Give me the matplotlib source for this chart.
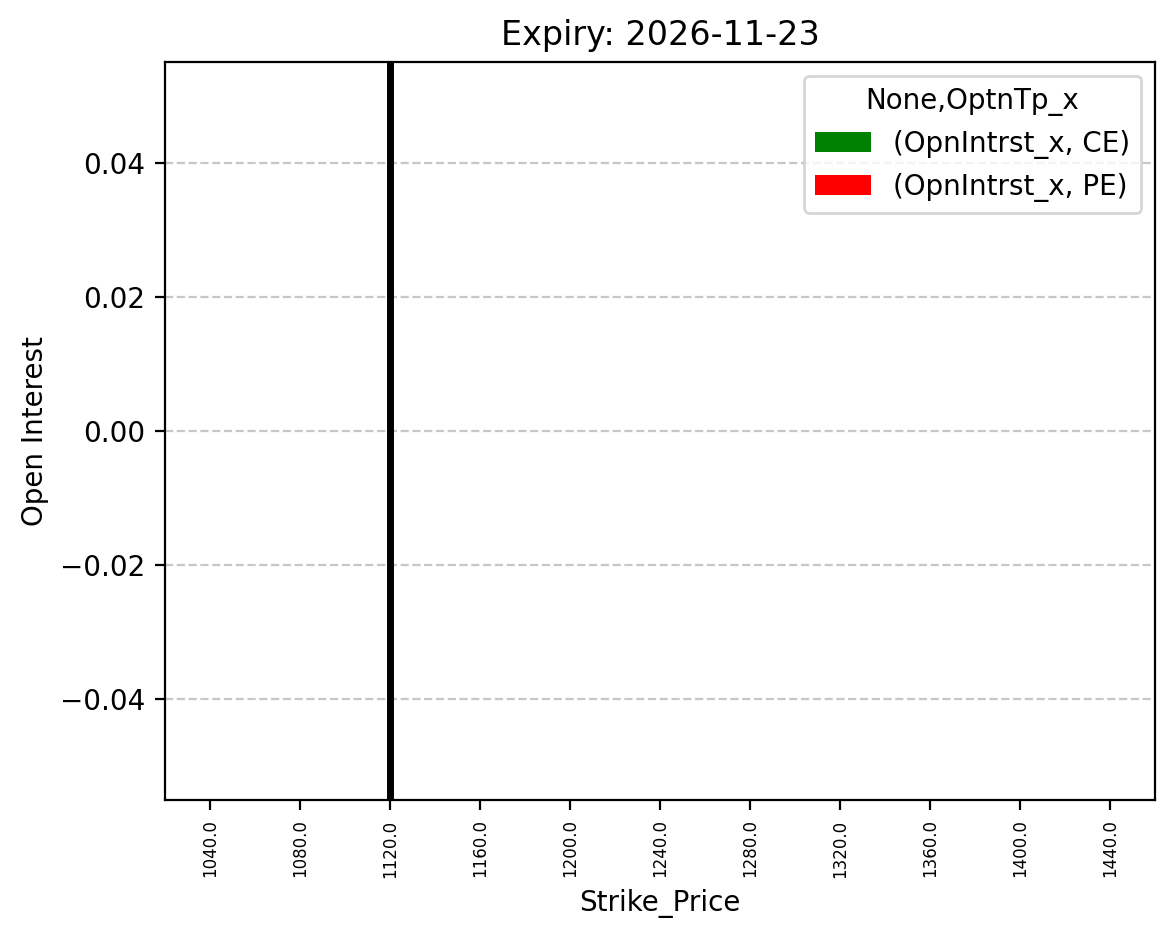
import numpy as np
import matplotlib
matplotlib.use("Agg")
import matplotlib.pyplot as plt

# option chain snapshot (no open interest recorded for this expiry)
expiry = "2026-11-23"
strikes = [1040.0, 1080.0, 1120.0, 1160.0, 1200.0, 1240.0,
           1280.0, 1320.0, 1360.0, 1400.0, 1440.0]
ce_oi = [0, 0, 0, 0, 0, 0, 0, 0, 0, 0, 0]
pe_oi = [0, 0, 0, 0, 0, 0, 0, 0, 0, 0, 0]
spot_strike = 1120.0

fig, ax = plt.subplots(figsize=(5.875, 4.695), dpi=200)
fig.subplots_adjust(left=0.1404, right=0.983, top=0.934, bottom=0.148)

x = np.arange(len(strikes))
w = 0.25
ax.bar(x - w / 2, ce_oi, width=w, color='green', label='(OpnIntrst_x, CE)')
ax.bar(x + w / 2, pe_oi, width=w, color='red', label='(OpnIntrst_x, PE)')

ax.set_xlim(-0.5, len(strikes) - 0.5)
ax.set_xticks(x)
ax.set_xticklabels([str(s) for s in strikes], rotation=90, fontsize=6)

# mark the strike nearest to spot
ax.axvline(strikes.index(spot_strike), color='black', linewidth=2.5)

ax.grid(axis='y', linestyle='--', alpha=0.7)
ax.set_axisbelow(True)
ax.set_title(f'Expiry: {expiry}')
ax.set_xlabel('Strike_Price')
ax.set_ylabel('Open Interest')
ax.legend(title='None,OptnTp_x', loc='upper right')

plt.savefig('out.png', dpi=200)
